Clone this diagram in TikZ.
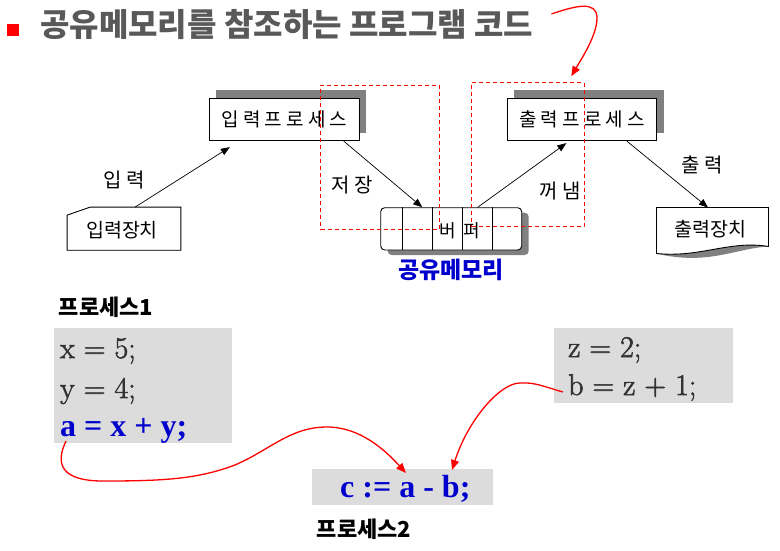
\documentclass[tikz,border=0pt]{standalone}
\usepackage{fontspec}
\usetikzlibrary{arrows.meta,calc,shadows}

\newfontfamily\krfont{Noto Sans CJK KR}
\newfontfamily\krwide[LetterSpace=22, Kerning=Off]{Noto Sans CJK KR}
\newfontfamily\coderm[FakeBold=2]{Latin Modern Roman}
\newfontfamily\codebf{Liberation Serif}

\definecolor{titlegray}{HTML}{595959}
\definecolor{boxshadow}{HTML}{808080}
\definecolor{codegray}{HTML}{DCDCDC}
\definecolor{codeink}{HTML}{333333}
\definecolor{codeblue}{HTML}{0000CC}

\tikzset{
	txt/.style={inner sep=0pt},
	procbox/.style={draw, line width=0.9pt, fill=white, minimum width=150pt, minimum height=42.4pt,
		inner sep=0pt, font=\krwide\fontsize{19}{21}\selectfont,
		drop shadow={shadow xshift=7pt, shadow yshift=8pt, fill=boxshadow, opacity=1}},
	flowarrow/.style={line width=0.7pt, -{Triangle[length=9pt,width=7pt]}},
	flowlabel/.style={inner sep=0pt, font=\krwide\fontsize{20}{22}\selectfont},
	memwin/.style={draw=red, dash pattern=on 4pt off 3pt, line width=0.9pt, inner sep=0pt},
	redarrow/.style={red, line width=1.3pt, -{Triangle[length=10pt,width=8pt]}},
	codeline/.style={inner sep=0pt, anchor=base west, text=codeink, font=\coderm\fontsize{30}{32}\selectfont},
	codebold/.style={inner sep=0pt, anchor=base west, text=codeblue, font=\codebf\bfseries\fontsize{32}{34}\selectfont},
	proclabel/.style={inner sep=0pt, font=\krfont\bfseries\fontsize{22}{24}\selectfont}
}

\begin{document}
\begin{tikzpicture}[x=1pt, y=-1pt]
	\useasboundingbox[fill=white] (0,0) rectangle (780,551);

	% title
	\fill[red] (7.3,24) rectangle (19,35.7);
	\node[txt, anchor=west, text=titlegray, font=\krfont\bfseries\fontsize{32}{34}\selectfont] (title) at (40,25)
		{공유메모리를 참조하는 프로그램 코드};

	% processes and devices
	\node[procbox] (inproc) at (284.3,119.5) {입력프로세스};
	\node[procbox, minimum width=149.4pt] (outproc) at (582,119.5) {출력프로세스};

	\node[txt, minimum width=113.4pt, minimum height=42.7pt] (indev) at (124,228.7) {};
	\fill[boxshadow, shift={(6,6)}] (indev.south west) -- ($(indev.north west)+(0,8)$) -- ($(indev.north west)+(23,0)$)
		-- (indev.north east) -- (indev.south east) -- cycle;
	\draw[line width=0.9pt, fill=white] (indev.south west) -- ($(indev.north west)+(0,8)$) -- ($(indev.north west)+(23,0)$)
		-- (indev.north east) -- (indev.south east) -- cycle;
	\node[txt, font=\krfont\fontsize{19.5}{21}\selectfont] at ($(indev.center)+(-2,2)$) {입력장치};

	\node[txt, minimum width=111.6pt, minimum height=45.6pt] (outdev) at (712.5,230.5) {};
	\fill[boxshadow, shift={(7,8)}] (outdev.north west) -- (outdev.north east) -- ($(outdev.south east)+(0,-7)$)
		.. controls (730,240) and (700,258) .. (outdev.south west) -- cycle;
	\draw[line width=0.9pt, fill=white] (outdev.north west) -- (outdev.north east) -- ($(outdev.south east)+(0,-7)$)
		.. controls (730,240) and (700,258) .. (outdev.south west) -- cycle;
	\node[txt, font=\krfont\fontsize{19.5}{21}\selectfont] at ($(outdev.center)+(-2,-1)$) {출력장치};

	% buffer
	\node[draw, line width=0.9pt, fill=white, rounded corners=4pt, minimum width=141pt, minimum height=42.3pt,
		drop shadow={shadow xshift=7pt, shadow yshift=-5pt, fill=boxshadow, opacity=1}] (buf) at (451.2,228.85) {};
	\foreach \dx in {21.6,52,82,111.6}
		\draw[line width=0.7pt] ($(buf.north west)+(\dx,0)$) -- ($(buf.south west)+(\dx,0)$);
	\node[txt, font=\krfont\fontsize{18}{20}\selectfont] at (460,231) {버\hspace{8pt}퍼};
	\node[txt, text=codeblue, font=\krfont\bfseries\fontsize{23}{25}\selectfont] (memlabel) at (451,270) {공유메모리};

	% flows
	\draw[flowarrow] ($(indev.north)+(11,0)$) -- ($(inproc.south west)+(21,6)$);
	\draw[flowarrow] ($(inproc.south east)+(-16,0)$) -- ($(buf.north west)+(42,0)$);
	\draw[flowarrow] ($(buf.north west)+(97.5,0)$) -- ($(outproc.south west)+(59.5,2)$);
	\draw[flowarrow] ($(outproc.south west)+(120,0)$) -- ($(outdev.north west)+(51.5,0)$);
	\node[flowlabel] at (124,180) {입력};
	\node[flowlabel] at (352,185) {저장};
	\node[flowlabel] at (560,191) {꺼냄};
	\node[flowlabel] at (702,165) {출력};

	% shared memory windows
	\node[memwin, minimum width=118.6pt, minimum height=144pt] (lwin) at (380,157) {};
	\node[memwin, minimum width=112.3pt, minimum height=144pt] (rwin) at (527.85,154.7) {};
	\draw[redarrow] ($(title.east)+(18,-11)$) .. controls (575,6) and (597,0) .. (597,18)
		.. controls (597,35) and (582,58) .. ($(rwin.north west)+(100,-6)$);

	% code
	\fill[codegray] (54,328) rectangle (232,443);
	\fill[codegray] (554,328) rectangle (733,403);
	\fill[codegray] (312,469) rectangle (493,505);
	\node[proclabel] (proc1) at (106,307) {프로세스1};
	\node[codeline] (xline) at (60,358) {x = 5;};
	\node[codeline] (yline) at (60,398) {y = 4;};
	\node[codebold] (aline) at (60,436) {a = x + y;};
	\node[codeline] (zline) at (568,357) {z = 2;};
	\node[codeline] (bline) at (568,395) {b = z + 1;};
	\node[codebold] (cline) at (340,497) {c := a - b;};
	\node[proclabel] (proc2) at (364,529) {프로세스2};

	\draw[redarrow] ($(aline.base west)+(6,5)$) .. controls (56,462) and (58,482) .. (107,481)
		.. controls (170,481) and (200,478) .. (235,465)
		.. controls (270,450) and (290,427) .. (327,427)
		.. controls (360,427) and (385,450) .. ($(cline.base west)+(66,-24)$);
	\draw[redarrow] ($(bline.base west)+(-5,-3)$) .. controls (545,387) and (535,382) .. (520,383)
		.. controls (500,383) and (468,420) .. ($(cline.base west)+(112,-27)$);
\end{tikzpicture}
\end{document}
